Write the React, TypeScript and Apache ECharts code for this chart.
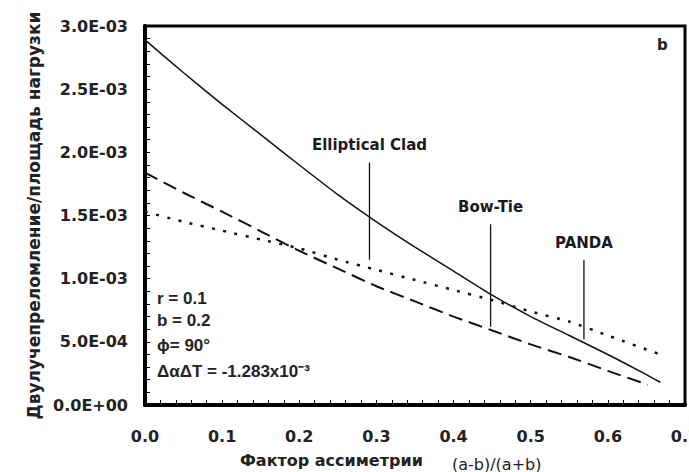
import React, { useEffect, useRef } from "react";
import * as echarts from "echarts";

// Asymmetry factor (a-b)/(a+b) and birefringence per unit load area
const xEllip = [0, 0.05, 0.1, 0.15, 0.2, 0.25, 0.3, 0.35, 0.4, 0.45, 0.5, 0.55, 0.6, 0.65, 0.668];
const yEllip = [0.00289, 0.00263, 0.00238, 0.00214, 0.00190, 0.001665, 0.00145, 0.00125, 0.00106, 0.00087, 0.0007, 0.00055, 0.0004, 0.00024, 0.00018];

const xBow = [0, 0.05, 0.1, 0.15, 0.2, 0.25, 0.3, 0.35, 0.4, 0.45, 0.5, 0.55, 0.6, 0.652];
const yBow = [0.00184, 0.00168, 0.00153, 0.001375, 0.00122, 0.00108, 0.00094, 0.00082, 0.0007, 0.00059, 0.00048, 0.00038, 0.00027, 0.00016];

const xPanda = [0, 0.05, 0.1, 0.15, 0.2, 0.25, 0.3, 0.35, 0.4, 0.45, 0.5, 0.55, 0.6, 0.668];
const yPanda = [0.00153, 0.00145, 0.00138, 0.00131, 0.00124, 0.00115, 0.00107, 0.00099, 0.00091, 0.00083, 0.00074, 0.00066, 0.00055, 0.0004];

const annoNames = ["Elliptical Clad", "Bow-Tie", "PANDA"];
const annoX = [0.291, 0.448, 0.569];
const annoTop = [0.00192, 0.00143, 0.00115];
const annoBottom = [0.00115, 0.00062, 0.00052];

const paramLines = ["r = 0.1", "b = 0.2", "ϕ= 90°", "ΔαΔT = -1.283x10⁻³"];

const pairs = (xs: number[], ys: number[]) => xs.map((x, i) => [x, ys[i]]);

const fmtY = (v: number) => {
  const [m, e] = v.toExponential(1).split("e");
  const n = parseInt(e, 10);
  return `${m}E${n < 0 ? "-" : "+"}${String(Math.abs(n)).padStart(2, "0")}`;
};

export default function App() {
  const ref = useRef<HTMLDivElement>(null);
  useEffect(() => {
    if (!ref.current) return;
    const chart = echarts.init(ref.current, null, { renderer: "svg" });
    const tickFont = { fontFamily: "DejaVu Sans", fontWeight: "bold" as const, fontSize: 16, color: "#222" };
    const annoSeries = annoNames.map((name, i) => ({
      type: "line",
      name,
      symbol: "none",
      silent: true,
      lineStyle: { color: "#111", width: 1.3 },
      data: [
        [annoX[i], annoTop[i]],
        [annoX[i], annoBottom[i]],
      ],
    }));
    const annoLabels = {
      type: "scatter",
      name: "labels",
      symbolSize: 1,
      silent: true,
      itemStyle: { color: "rgba(0,0,0,0)", opacity: 1 },
      label: {
        show: true,
        position: "top",
        distance: 9,
        formatter: (p: any) => annoNames[p.dataIndex],
        fontFamily: "DejaVu Sans",
        fontWeight: "bold",
        fontSize: 15,
        color: "#1a1a1a",
        opacity: 1,
      },
      data: annoX.map((x, i) => [x, annoTop[i]]),
    };
    chart.setOption({
      animation: false,
      backgroundColor: "#fff",
      grid: {
        left: 145,
        right: 4,
        top: 26,
        bottom: 67,
        show: true,
        borderColor: "#000",
        borderWidth: 3,
        outerBoundsMode: "none",
      },
      xAxis: {
        type: "value",
        min: 0,
        max: 0.7,
        interval: 0.1,
        axisLine: { show: true, lineStyle: { color: "#000", width: 4 } },
        axisTick: { show: true, inside: true, length: 5, lineStyle: { color: "#000", width: 1 } },
        minorTick: { show: true, splitNumber: 5, length: 5, lineStyle: { color: "#000", width: 1 } },
        splitLine: { show: false },
        axisLabel: { ...tickFont, margin: 23, formatter: (v: number) => v.toFixed(1) },
      },
      yAxis: {
        type: "value",
        min: 0,
        max: 0.003,
        interval: 0.0005,
        name: "Двулучепреломление/площадь нагрузки",
        nameLocation: "middle",
        nameGap: 103,
        nameTextStyle: { fontFamily: "DejaVu Sans", fontWeight: "bold", fontSize: 17, color: "#222" },
        axisLine: { show: true, lineStyle: { color: "#000", width: 4 } },
        axisTick: { show: true, inside: true, length: 5, lineStyle: { color: "#000", width: 1 } },
        minorTick: { show: true, splitNumber: 5, length: 5, lineStyle: { color: "#000", width: 1 } },
        splitLine: { show: false },
        axisLabel: { ...tickFont, margin: 17, formatter: fmtY },
      },
      graphic: [
        {
          type: "text",
          left: 240,
          top: 452,
          style: { text: "Фактор ассиметрии", font: "bold 16px 'DejaVu Sans'", fill: "#222" },
        },
        {
          type: "text",
          left: 452,
          top: 456,
          style: { text: "(a-b)/(a+b)", font: "16px 'DejaVu Sans'", fill: "#222" },
        },
        {
          type: "text",
          left: 657,
          top: 37,
          style: { text: "b", font: "bold 15px 'DejaVu Sans'", fill: "#222" },
        },
        ...paramLines.map((t, i) => ({
          type: "text",
          left: 157,
          top: [290, 312, 337, 363][i],
          style: { text: t, font: "bold 17px 'Liberation Sans'", fill: "#222" },
        })),
      ],
      series: [
        {
          type: "line",
          name: "Elliptical",
          symbol: "none",
          smooth: 0.2,
          lineStyle: { color: "#111", width: 1.5 },
          data: pairs(xEllip, yEllip),
        },
        {
          type: "line",
          name: "Bow",
          symbol: "none",
          smooth: 0.2,
          lineStyle: { color: "#111", width: 2, type: [14, 7] },
          data: pairs(xBow, yBow),
        },
        {
          type: "line",
          name: "Panda",
          symbol: "none",
          smooth: 0.2,
          lineStyle: { color: "#111", width: 2.5, type: [3, 8.5] },
          data: pairs(xPanda, yPanda),
        },
        ...annoSeries,
        annoLabels,
      ],
    });
    return () => chart.dispose();
  }, []);
  return <div ref={ref} style={{ position: "fixed", left: 0, top: 0, width: 689, height: 472 }} />;
}
